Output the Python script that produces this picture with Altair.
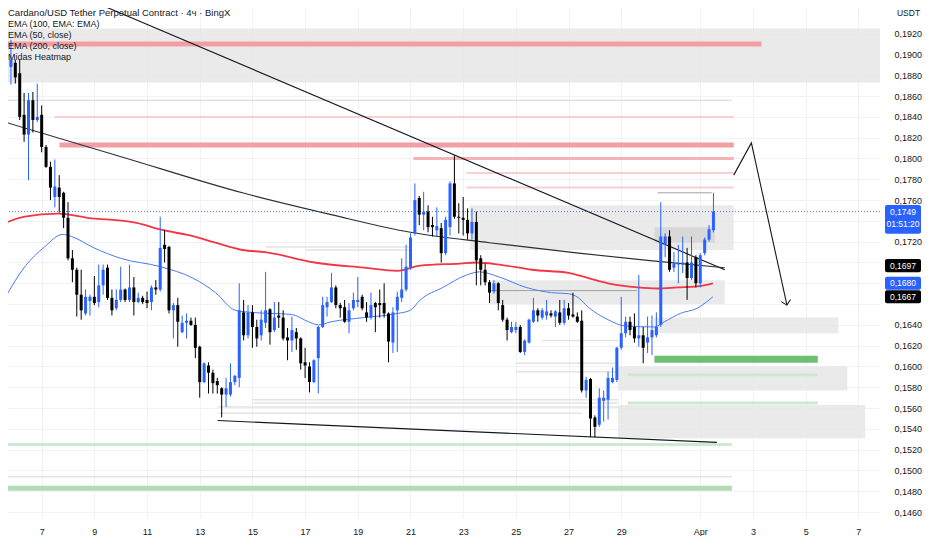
import altair as alt
import numpy as np
import pandas as pd

# ---------------- values ----------------
# 4h candles, Cardano/USDT perpetual (BingX), Mar 5 20:00 -> Apr 1 12:00
# time axis unit: "day of March" (Mar 7 00:00 = 7, Apr 1 00:00 = 32)
first_candle_day = 5 + 20 / 24
candle_step_days = 4 / 24

opens = [
    0.1888, 0.1892, 0.1882, 0.1842, 0.1823, 0.1856, 0.1837, 0.1842, 0.1811, 0.1792,
    0.1763, 0.1772, 0.1767, 0.1743, 0.1704, 0.1693, 0.1669, 0.1651, 0.1663, 0.1667,
    0.1662, 0.1678, 0.1695, 0.1666, 0.1656, 0.1664, 0.1674, 0.1664, 0.1676, 0.1662,
    0.1666, 0.1664, 0.1662, 0.1676, 0.1674, 0.1717, 0.1715, 0.1654, 0.1659, 0.1633,
    0.1642, 0.1644, 0.1640, 0.1619, 0.1585, 0.1601, 0.1594, 0.1586, 0.1579, 0.1573,
    0.1573, 0.1585, 0.1589, 0.1652, 0.1630, 0.1652, 0.1638, 0.1630, 0.1642, 0.1655,
    0.1635, 0.1649, 0.1647, 0.1628, 0.1625, 0.1633, 0.1627, 0.1604, 0.1600, 0.1585,
    0.1608, 0.1638, 0.1657, 0.1662, 0.1676, 0.1659, 0.1657, 0.1643, 0.1656, 0.1662,
    0.1667, 0.1652, 0.1647, 0.1661, 0.1661, 0.1661, 0.1651, 0.1623, 0.1654, 0.1666,
    0.1674, 0.1695, 0.1728, 0.1762, 0.1746, 0.1749, 0.1736, 0.1731, 0.1733, 0.1709,
    0.1734, 0.1776, 0.1744, 0.1743, 0.1741, 0.1728, 0.1739, 0.1704, 0.1693, 0.1681,
    0.1672, 0.1680, 0.1659, 0.1645, 0.1633, 0.1635, 0.1638, 0.1614, 0.1623, 0.1643,
    0.1654, 0.1647, 0.1649, 0.1651, 0.1648, 0.1652, 0.1642, 0.1656, 0.1650, 0.1648,
    0.1644, 0.1577, 0.1588, 0.1551, 0.1544, 0.1567, 0.1568, 0.1585, 0.1587, 0.1618,
    0.1632, 0.1643, 0.1638, 0.1627, 0.1630, 0.1623, 0.1628, 0.1630, 0.1640, 0.1717,
    0.1725, 0.1695, 0.1698, 0.1698, 0.1700, 0.1685, 0.1705, 0.1680, 0.1709, 0.1722,
    0.1731,
]
highs = [
    0.1914, 0.1895, 0.1895, 0.1863, 0.1863, 0.1864, 0.1872, 0.1851, 0.1813, 0.1797,
    0.1799, 0.1784, 0.1768, 0.1758, 0.1712, 0.1695, 0.1693, 0.1674, 0.1669, 0.1687,
    0.1698, 0.1698, 0.1698, 0.1674, 0.1674, 0.1696, 0.1675, 0.1698, 0.1686, 0.1671,
    0.1668, 0.1672, 0.1678, 0.1683, 0.1744, 0.1731, 0.1716, 0.1661, 0.1666, 0.1649,
    0.1651, 0.1647, 0.1647, 0.1620, 0.1604, 0.1604, 0.1597, 0.1589, 0.1580, 0.1589,
    0.1603, 0.1592, 0.1680, 0.1664, 0.1659, 0.1659, 0.1645, 0.1654, 0.1691, 0.1656,
    0.1662, 0.1662, 0.1654, 0.1637, 0.1648, 0.1637, 0.1628, 0.1618, 0.1604, 0.1607,
    0.1639, 0.1667, 0.1667, 0.1690, 0.1678, 0.1661, 0.1664, 0.1661, 0.1671, 0.1686,
    0.1669, 0.1662, 0.1671, 0.1662, 0.1674, 0.1680, 0.1652, 0.1657, 0.1672, 0.1704,
    0.1717, 0.1728, 0.1776, 0.1764, 0.1768, 0.1755, 0.1744, 0.1753, 0.1738, 0.1744,
    0.1778, 0.1803, 0.1757, 0.1763, 0.1752, 0.1752, 0.1749, 0.1707, 0.1699, 0.1683,
    0.1683, 0.1681, 0.1664, 0.1647, 0.1643, 0.1643, 0.1640, 0.1626, 0.1646, 0.1666,
    0.1656, 0.1656, 0.1664, 0.1654, 0.1654, 0.1664, 0.1664, 0.1661, 0.1671, 0.1652,
    0.1654, 0.1590, 0.1589, 0.1553, 0.1579, 0.1577, 0.1595, 0.1599, 0.1619, 0.1667,
    0.1648, 0.1648, 0.1651, 0.1688, 0.1638, 0.1648, 0.1649, 0.1652, 0.1758, 0.1728,
    0.1731, 0.1710, 0.1717, 0.1725, 0.1714, 0.1725, 0.1707, 0.1709, 0.1724, 0.1736,
    0.1767,
]
lows = [
    0.1871, 0.1872, 0.1837, 0.1816, 0.1779, 0.1825, 0.1835, 0.1806, 0.1791, 0.1760,
    0.1753, 0.1748, 0.1733, 0.1702, 0.1681, 0.1648, 0.1645, 0.1649, 0.1649, 0.1659,
    0.1657, 0.1669, 0.1664, 0.1649, 0.1654, 0.1662, 0.1662, 0.1662, 0.1649, 0.1661,
    0.1660, 0.1656, 0.1654, 0.1669, 0.1672, 0.1700, 0.1651, 0.1627, 0.1619, 0.1632,
    0.1627, 0.1639, 0.1608, 0.1570, 0.1584, 0.1574, 0.1574, 0.1574, 0.1551, 0.1561,
    0.1571, 0.1582, 0.1580, 0.1625, 0.1627, 0.1618, 0.1619, 0.1625, 0.1637, 0.1621,
    0.1633, 0.1637, 0.1625, 0.1606, 0.1614, 0.1616, 0.1597, 0.1589, 0.1575, 0.1584,
    0.1574, 0.1637, 0.1648, 0.1661, 0.1656, 0.1647, 0.1642, 0.1632, 0.1654, 0.1657,
    0.1654, 0.1643, 0.1645, 0.1633, 0.1647, 0.1647, 0.1604, 0.1613, 0.1614, 0.1662,
    0.1672, 0.1693, 0.1726, 0.1736, 0.1731, 0.1729, 0.1725, 0.1725, 0.1700, 0.1707,
    0.1726, 0.1742, 0.1728, 0.1726, 0.1722, 0.1722, 0.1678, 0.1678, 0.1678, 0.1661,
    0.1670, 0.1654, 0.1643, 0.1625, 0.1632, 0.1632, 0.1613, 0.1611, 0.1622, 0.1642,
    0.1643, 0.1645, 0.1645, 0.1647, 0.1638, 0.1640, 0.1640, 0.1645, 0.1647, 0.1642,
    0.1575, 0.1570, 0.1532, 0.1532, 0.1542, 0.1547, 0.1549, 0.1584, 0.1585, 0.1616,
    0.1628, 0.1630, 0.1623, 0.1619, 0.1603, 0.1613, 0.1611, 0.1628, 0.1638, 0.1705,
    0.1691, 0.1691, 0.1680, 0.1690, 0.1664, 0.1683, 0.1676, 0.1676, 0.1707, 0.1720,
    0.1729,
]
closes = [
    0.1895, 0.1878, 0.1840, 0.1823, 0.1856, 0.1837, 0.1840, 0.1811, 0.1792, 0.1772,
    0.1773, 0.1763, 0.1743, 0.1704, 0.1693, 0.1669, 0.1654, 0.1667, 0.1667, 0.1661,
    0.1678, 0.1693, 0.1666, 0.1654, 0.1664, 0.1674, 0.1664, 0.1676, 0.1662, 0.1666,
    0.1662, 0.1661, 0.1676, 0.1674, 0.1714, 0.1713, 0.1654, 0.1659, 0.1643, 0.1642,
    0.1644, 0.1640, 0.1618, 0.1585, 0.1603, 0.1594, 0.1584, 0.1582, 0.1573, 0.1579,
    0.1585, 0.1591, 0.1654, 0.1630, 0.1652, 0.1638, 0.1627, 0.1645, 0.1654, 0.1633,
    0.1647, 0.1647, 0.1627, 0.1625, 0.1635, 0.1627, 0.1603, 0.1601, 0.1585, 0.1606,
    0.1638, 0.1659, 0.1662, 0.1676, 0.1659, 0.1656, 0.1643, 0.1654, 0.1664, 0.1664,
    0.1656, 0.1647, 0.1659, 0.1657, 0.1659, 0.1651, 0.1624, 0.1652, 0.1667, 0.1674,
    0.1696, 0.1724, 0.1760, 0.1746, 0.1749, 0.1734, 0.1734, 0.1735, 0.1709, 0.1741,
    0.1776, 0.1744, 0.1743, 0.1741, 0.1728, 0.1739, 0.1702, 0.1693, 0.1681, 0.1671,
    0.1680, 0.1661, 0.1645, 0.1635, 0.1638, 0.1638, 0.1614, 0.1625, 0.1645, 0.1654,
    0.1649, 0.1654, 0.1653, 0.1649, 0.1653, 0.1642, 0.1656, 0.1649, 0.1648, 0.1643,
    0.1577, 0.1587, 0.1550, 0.1542, 0.1570, 0.1570, 0.1589, 0.1589, 0.1618, 0.1632,
    0.1643, 0.1635, 0.1627, 0.1630, 0.1618, 0.1628, 0.1635, 0.1638, 0.1725, 0.1725,
    0.1693, 0.1699, 0.1699, 0.1700, 0.1685, 0.1700, 0.1680, 0.1707, 0.1722, 0.1732,
    0.1749,
]

# EMA (200, close) - red, EMA (50, close) - blue
ema200_day = [5.61, 6.36, 7.60, 8.73, 10.60, 11.62, 12.63, 13.60, 14.62, 15.48,
              17.36, 19.23, 20.51, 21.37, 22.87, 23.51, 24.37, 25.61, 27.00, 27.75,
              28.50, 29.63, 30.38, 31.13, 31.88, 32.48]
ema200 = [0.1738, 0.1744, 0.1747, 0.1743, 0.1738, 0.1731, 0.1726, 0.1719, 0.1712, 0.1710,
          0.1700, 0.1695, 0.1692, 0.1697, 0.1699, 0.1700, 0.1698, 0.1693, 0.1690, 0.1685,
          0.1680, 0.1676, 0.1675, 0.1676, 0.1677, 0.1680]
ema50_day = [5.61, 6.36, 7.11, 7.79, 8.13, 8.99, 10.00, 11.50, 12.74, 13.60,
             14.35, 14.99, 16.49, 17.13, 17.51, 17.99, 19.23, 20.51, 20.99, 21.37,
             22.23, 23.13, 23.62, 24.37, 25.39, 26.36, 27.00, 27.38, 27.75, 28.50,
             29.14, 30.26, 30.64, 31.24, 31.88, 32.48]
ema50 = [0.1666, 0.1696, 0.1715, 0.1727, 0.1725, 0.1714, 0.1704, 0.1696, 0.1685, 0.1671,
         0.1654, 0.1652, 0.1650, 0.1643, 0.1640, 0.1643, 0.1647, 0.1651, 0.1654, 0.1664,
         0.1676, 0.1688, 0.1691, 0.1686, 0.1676, 0.1671, 0.1670, 0.1666, 0.1657, 0.1645,
         0.1639, 0.1638, 0.1643, 0.1651, 0.1656, 0.1667]

# drawn trend lines (day, price)
trend_a_day = [5.60, 32.93]
trend_a_price = [0.1987, 0.1693]
trend_b_day = [5.61, 10.11, 14.62, 17.99, 21.00, 24.00, 27.38, 30.00, 32.93]
trend_b_price = [0.1835, 0.1801, 0.1767, 0.1746, 0.1729, 0.1719, 0.1709, 0.1702, 0.1695]
support_day = [13.68, 32.63]
support_price = [0.1548, 0.1527]
arrow_day = [33.27, 33.94, 35.29]
arrow_price = [0.1784, 0.1815, 0.1659]

# Midas heatmap zones
zone_start = [5.50, 23.25, 24.00, 30.26, 28.88, 28.88]
zone_end = [38.93, 33.27, 32.93, 37.24, 37.58, 38.26]
zone_low = [0.1873, 0.1712, 0.1660, 0.1632, 0.1577, 0.1531]
zone_high = [0.1925, 0.1755, 0.1683, 0.1647, 0.1600, 0.1563]
core_start, core_end, core_low, core_high = [30.26], [32.55], [0.1719], [0.1734]

red_strong_lvl, red_strong_start, red_strong_end = [0.1910, 0.1813], [5.50, 7.68], [34.32, 33.27]
red_mid_lvl, red_mid_start, red_mid_end = [0.1800], [21.11], [33.27]
red_faint_lvl, red_faint_start, red_faint_end = [0.1840, 0.1786, 0.1772], [7.49, 23.13, 23.13], [33.27, 33.27, 33.27]
green_strong_lvl, green_strong_start, green_strong_end = [0.1607], [30.26], [36.46]
green_mid_lvl, green_mid_start, green_mid_end = [0.1483], [5.50], [33.20]
green_faint_lvl, green_faint_start, green_faint_end = [0.1592, 0.1565, 0.1525], [29.25, 29.25, 5.50], [36.46, 36.46, 33.20]
grey_lvl = [0.1856, 0.1715, 0.1712, 0.1625, 0.1603, 0.1595, 0.1568, 0.1565, 0.1561, 0.1555, 0.1494, 0.1453]
grey_start = [5.50, 15.50, 17.00, 26.00, 25.00, 25.00, 15.00, 15.00, 13.70, 13.70, 5.50, 5.50]
grey_end = [33.20, 21.00, 21.00, 28.90, 28.90, 28.90, 28.90, 28.90, 28.90, 27.50, 33.20, 33.20]
dark_lvl, dark_start, dark_end = [0.1767, 0.1673], [30.38, 24.00], [32.44, 29.60]

last_price = 0.1749
tag_price = [0.1749, 0.1697, 0.1680, 0.1667]
tag_text = ["0,1749", "0,1697", "0,1680", "0,1667"]
countdown = "01:51:20"

legend_lines = ["Cardano/USD Tether Perpetual Contract · 4ч · BingX",
                "EMA (100, EMA: EMA)", "EMA (50, close)", "EMA (200, close)", "Midas Heatmap"]

x_ticks = [7, 9, 11, 13, 15, 17, 19, 21, 23, 25, 27, 29, 32, 34, 36, 38]
y_ticks = [round(0.146 + 0.002 * i, 4) for i in range(24)]
y_hidden = [0.1740, 0.1700, 0.1680, 0.1660]   # covered by the price tags

# ---------------- layout / style ----------------
W, H = 872, 510
FONT = "Liberation Sans, Arial, sans-serif"
TXT = "#131722"
BLUE = "#2962ff"
RED = "#f23645"
GRID = "#f0f2f5"

xs = alt.Scale(domain=[5.912, 5.912 + W / 26.65], nice=False, zero=False)
ys = alt.Scale(domain=[0.19447 - H / 10400, 0.19447], nice=False, zero=False)

hidden_expr = " || ".join(f"abs(datum.value - {v}) < 0.00001" for v in y_hidden)
x_axis = alt.Axis(values=x_ticks, grid=True, gridColor=GRID, ticks=False, domain=False,
                  labelExpr="datum.value == 32 ? 'Apr' : (datum.value > 31 ? toString(datum.value - 31) : toString(datum.value))",
                  labelFont=FONT, labelFontSize=9, labelColor=TXT, labelPadding=9, title=None)
y_axis = alt.Axis(orient="right", values=y_ticks, grid=True, gridColor=GRID, ticks=False, domain=False,
                  labelExpr=f"({hidden_expr}) ? '' : replace(format(datum.value, '.4f'), '.', ',')",
                  labelFont=FONT, labelFontSize=9, labelColor=TXT, labelPadding=14,
                  title="USDT", titleAngle=0, titleX=28, titleY=4, titleAlign="center",
                  titleBaseline="middle", titleFont=FONT, titleFontSize=8.5, titleFontWeight="normal",
                  titleColor=TXT, labelOverlap=False)


def X(f):
    return alt.X(f"{f}:Q", scale=xs, axis=x_axis)


def Y(f):
    return alt.Y(f"{f}:Q", scale=ys, axis=y_axis)


def levels(lvl, start, end, color, width, opacity=1.0):
    df = pd.DataFrame({"p": lvl, "a": start, "b": end})
    return alt.Chart(df).mark_rule(color=color, strokeWidth=width, opacity=opacity, clip=True).encode(
        x=X("a"), x2="b", y=Y("p"))


def boxes(start, end, low, high, color, opacity=1.0):
    df = pd.DataFrame({"a": start, "b": end, "lo": low, "hi": high})
    return alt.Chart(df).mark_rect(color=color, opacity=opacity, clip=True).encode(
        x=X("a"), x2="b", y=Y("lo"), y2="hi")


def path(days, prices, color, width, interp="linear"):
    df = pd.DataFrame({"d": days, "p": prices, "o": list(range(len(days)))})
    return alt.Chart(df).mark_line(color=color, strokeWidth=width, interpolate=interp, clip=True).encode(
        x=X("d"), y=Y("p"), order="o:Q")


candles = pd.DataFrame({"open": opens, "high": highs, "low": lows, "close": closes})
candles["day"] = first_candle_day + np.arange(len(candles)) * candle_step_days
candles["dir"] = np.where(candles["close"] >= candles["open"], "up", "down")
ccol = alt.Color("dir:N", scale=alt.Scale(domain=["up", "down"], range=[BLUE, "#000000"]), legend=None)

wicks = alt.Chart(candles).mark_rule(strokeWidth=1, clip=True).encode(
    x=X("day"), y=Y("low"), y2="high", color=ccol)
bodies = alt.Chart(candles).mark_bar(size=3, clip=True).encode(
    x=X("day"), y=Y("open"), y2="close", color=ccol)

price_line = alt.Chart(pd.DataFrame({"p": [last_price]})).mark_rule(
    color=BLUE, strokeDash=[1, 2], strokeWidth=1, opacity=0.8).encode(y=Y("p"))

arrow_tip = alt.Chart(pd.DataFrame({"d": arrow_day[-1:], "p": arrow_price[-1:]})).mark_point(
    shape="M -1 -1 L 0 0 L 1 -1", filled=False, size=90, angle=347, color=TXT, strokeWidth=1, opacity=1
).encode(x=X("d"), y=Y("p"))

# price tags on the right scale
half = 0.00063
tags = pd.DataFrame({"p": tag_price, "t": tag_text, "k": ["last", "ema100", "ema200", "ema50"]})
tags["top"] = tags["p"] + half
tags["bot"] = tags["p"] - half
tags.loc[0, "bot"] = tags.loc[0, "p"] - 3.4 * half
tag_color = alt.Color("k:N", scale=alt.Scale(domain=["last", "ema100", "ema200", "ema50"],
                                             range=[BLUE, "#000000", RED, BLUE]), legend=None)
tag_boxes = alt.Chart(tags).mark_rect(cornerRadius=2).encode(
    x=alt.value(W + 5), x2=alt.value(W + 41), y=Y("top"), y2="bot", color=tag_color)
tag_texts = alt.Chart(tags).mark_text(font=FONT, fontSize=8.5, color="white", align="center",
                                      baseline="middle").encode(x=alt.value(W + 23), y=Y("p"), text="t:N")
cd = pd.DataFrame({"p": [last_price - 1.9 * half], "t": [countdown]})
cd_text = alt.Chart(cd).mark_text(font=FONT, fontSize=8.5, color="white", align="center",
                                  baseline="middle").encode(x=alt.value(W + 23), y=Y("p"), text="t:N")

legend_layers = []
for i, line in enumerate(legend_lines):
    legend_layers.append(
        alt.Chart(pd.DataFrame({"t": [line]})).mark_text(
            font=FONT, fontSize=9.5 if i == 0 else 9, color=TXT, align="left", baseline="middle"
        ).encode(x=alt.value(0), y=alt.value([4.5, 15.5, 26.5, 37.5, 49][i]), text="t:N")
    )

chart = alt.layer(
    boxes(zone_start, zone_end, zone_low, zone_high, "#e6e6e6", 0.85),
    boxes(core_start, core_end, core_low, core_high, "#d6d6d6", 0.9),
    levels(grey_lvl, grey_start, grey_end, "#e3e3e3", 1.5),
    levels(red_faint_lvl, red_faint_start, red_faint_end, "#f9cfd2", 2),
    levels(red_mid_lvl, red_mid_start, red_mid_end, "#f5b3b8", 3),
    levels(red_strong_lvl, red_strong_start, red_strong_end, "#f29ea3", 5),
    levels(green_faint_lvl, green_faint_start, green_faint_end, "#cfe9d1", 3),
    levels(green_mid_lvl, green_mid_start, green_mid_end, "#b2dcb5", 5),
    levels(green_strong_lvl, green_strong_start, green_strong_end, "#6cc070", 7),
    levels(dark_lvl, dark_start, dark_end, "#a3a3a3", 1),
    path(ema200_day, ema200, RED, 1.8, "monotone"),
    path(ema50_day, ema50, "#4a7cf7", 1, "monotone"),
    path(trend_a_day, trend_a_price, TXT, 1.1),
    path(trend_b_day, trend_b_price, "#2a2e39", 1.1, "monotone"),
    path(support_day, support_price, TXT, 1.1),
    path(arrow_day, arrow_price, TXT, 1.1),
    arrow_tip,
    price_line,
    wicks,
    bodies,
    tag_boxes,
    tag_texts,
    cd_text,
    *legend_layers,
).properties(
    width=W, height=H, padding={"left": 0, "top": 0, "right": 42, "bottom": 18},
    autosize=alt.AutoSizeParams(type="none"), background="white",
).configure_view(stroke=None)

chart.save("out.html", embed_options={"renderer": "svg", "actions": False})
